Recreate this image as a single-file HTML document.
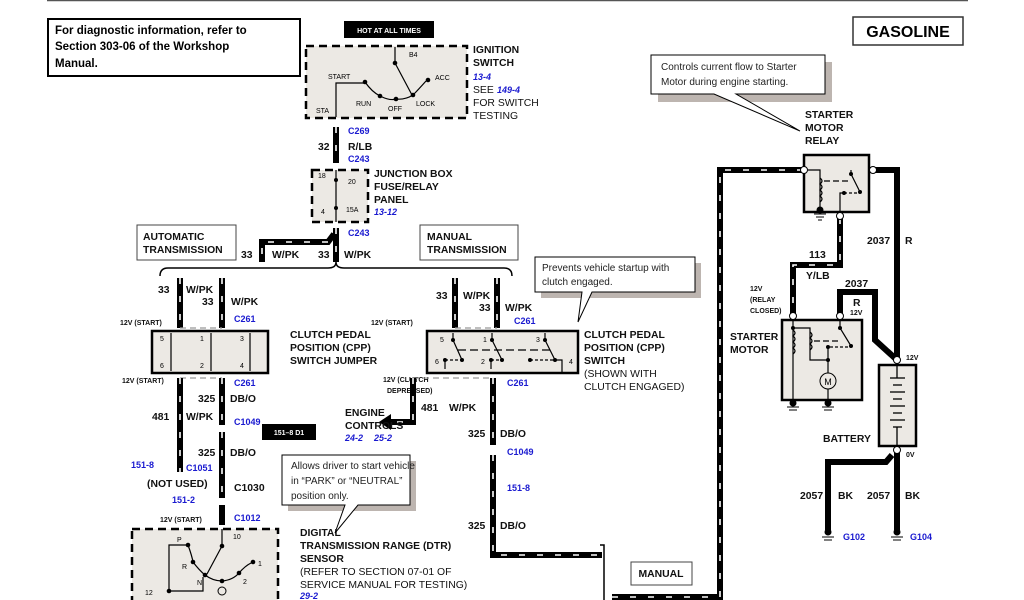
<!DOCTYPE html>
<html><head><meta charset="utf-8"><style>
html,body{margin:0;padding:0;background:#fff;}
svg{display:block;font-family:"Liberation Sans",Arial,sans-serif;}
.b{font-weight:bold;font-size:10.4px;fill:#111;}
.s{font-size:7px;font-weight:bold;fill:#111;}
.n{font-size:10px;fill:#222;}
.bl{font-weight:bold;font-style:italic;font-size:9px;fill:#1a1ad0;}
.c{font-weight:bold;font-size:9px;fill:#1a1ad0;}
.w{fill:none;stroke:#000;stroke-width:6;}
.wd{fill:none;stroke:#fff;stroke-width:1.6;stroke-dasharray:6 12;}
.ws{fill:none;stroke:#000;stroke-width:6;}
.box{fill:#ece9e4;stroke:#000;stroke-width:2.5;}
.dash{fill:#ece9e4;stroke:#000;stroke-width:2.5;stroke-dasharray:8 5;}
.t{fill:none;stroke:#000;stroke-width:1.2;}
</style></head><body>
<svg width="1024" height="600" viewBox="0 0 1024 600">
<line x1="47" y1="0.5" x2="968" y2="0.5" stroke="#555" stroke-width="1.5"/>

<rect x="48" y="19" width="252" height="57" fill="#fff" stroke="#000" stroke-width="2"/>
<text x="55" y="34" style="font-weight:bold;font-size:11.5px">For diagnostic information, refer to</text>
<text x="55" y="50" style="font-weight:bold;font-size:11.5px">Section 303-06 of the Workshop</text>
<text x="55" y="67" style="font-weight:bold;font-size:11.5px">Manual.</text>

<rect x="853" y="17" width="110" height="28" fill="#fff" stroke="#333" stroke-width="1.5"/>
<text x="908" y="37" text-anchor="middle" style="font-weight:bold;font-size:16px">GASOLINE</text>

<rect x="344" y="21" width="90" height="17" fill="#000"/>
<text x="389" y="33" text-anchor="middle" style="font-weight:bold;font-size:7px;fill:#fff">HOT AT ALL TIMES</text>
<rect x="306" y="46" width="161" height="72" class="dash"/>
<g class="t">
<polyline points="395,47 395,63 412,95"/>
<polyline points="336,117 336,83 365,83"/>
<path d="M365,82 Q372,92 380,96 Q390,101 396,99 Q405,100 413,95 Q418,90 426,81"/>
</g>
<g fill="#000"><circle cx="395" cy="63" r="2.3"/><circle cx="365" cy="82" r="2.3"/><circle cx="380" cy="96" r="2.3"/><circle cx="396" cy="99" r="2.3"/><circle cx="413" cy="95" r="2.3"/><circle cx="428" cy="80" r="2.3"/></g>
<g style="font-size:7px"><text x="409" y="57">B4</text><text x="328" y="79">START</text><text x="435" y="80">ACC</text><text x="356" y="106">RUN</text><text x="388" y="111">OFF</text><text x="416" y="106">LOCK</text><text x="316" y="113">STA</text></g>
<g class="b"><text x="473" y="53">IGNITION</text><text x="473" y="66">SWITCH</text><text x="473" y="93" style="font-weight:normal">SEE</text><text x="473" y="106" style="font-weight:normal">FOR SWITCH</text><text x="473" y="119" style="font-weight:normal">TESTING</text></g>
<text x="473" y="80" class="bl">13-4</text><text x="497" y="93" class="bl">149-4</text>

<line x1="336" y1="127" x2="336" y2="163" class="w"/><line x1="336" y1="127" x2="336" y2="163" class="wd"/>
<text x="348" y="134" class="c">C269</text><text x="318" y="150" class="b">32</text><text x="348" y="150" class="b">R/LB</text><text x="348" y="162" class="c">C243</text>

<rect x="312" y="170" width="56" height="52" class="dash"/>
<line x1="336" y1="170" x2="336" y2="222" class="t"/>
<circle cx="336" cy="180" r="2" /><circle cx="336" cy="208" r="2"/>
<g style="font-size:7px"><text x="318" y="178">18</text><text x="348" y="184">20</text><text x="321" y="214">4</text><text x="346" y="212">15A</text></g>
<g class="b"><text x="374" y="177">JUNCTION BOX</text><text x="374" y="190">FUSE/RELAY</text><text x="374" y="203">PANEL</text></g>
<text x="374" y="215" class="bl">13-12</text>

<polyline points="336,228 336,262" class="w"/><polyline points="336,228 336,262" class="wd"/>
<polyline points="334,234 328,242 262,242 262,262" class="w"/><polyline points="328,242 262,242 262,262" class="wd"/>
<text x="348" y="236" class="c">C243</text>
<g class="b"><text x="241" y="258">33</text><text x="272" y="258">W/PK</text><text x="318" y="258">33</text><text x="344" y="258">W/PK</text></g>
<rect x="137" y="225" width="99" height="35" fill="#fff" stroke="#444" stroke-width="1"/>
<text x="143" y="240" class="b">AUTOMATIC</text><text x="143" y="253" class="b">TRANSMISSION</text>
<rect x="420" y="225" width="98" height="35" fill="#fff" stroke="#444" stroke-width="1"/>
<text x="427" y="240" class="b">MANUAL</text><text x="427" y="253" class="b">TRANSMISSION</text>
<path d="M160,276 Q160,268 168,268 L328,268 Q336,268 336,262 Q336,268 344,268 L504,268 Q512,268 512,276" fill="none" stroke="#000" stroke-width="1.5"/>

<line x1="180" y1="278" x2="180" y2="328" class="w"/><line x1="180" y1="278" x2="180" y2="328" class="wd"/>
<line x1="222" y1="278" x2="222" y2="328" class="w"/><line x1="222" y1="278" x2="222" y2="328" class="wd"/>
<line x1="180" y1="328" x2="222" y2="328" stroke="#999" stroke-width="1.2" stroke-dasharray="6 4"/>
<g class="b"><text x="158" y="293">33</text><text x="186" y="293">W/PK</text><text x="202" y="305">33</text><text x="231" y="305">W/PK</text></g>
<text x="120" y="325" class="s">12V (START)</text><text x="234" y="322" class="c">C261</text>
<rect x="152" y="331" width="116" height="42" class="box"/>
<g class="t"><line x1="171" y1="333" x2="171" y2="371"/><line x1="211" y1="333" x2="211" y2="371"/><line x1="250" y1="333" x2="250" y2="371"/></g>
<g style="font-size:7px"><text x="160" y="341">5</text><text x="200" y="341">1</text><text x="240" y="341">3</text><text x="160" y="368">6</text><text x="200" y="368">2</text><text x="240" y="368">4</text></g>
<g class="b"><text x="290" y="338">CLUTCH PEDAL</text><text x="290" y="351">POSITION (CPP)</text><text x="290" y="364">SWITCH JUMPER</text></g>
<text x="122" y="383" class="s">12V (START)</text><text x="234" y="386" class="c">C261</text>
<line x1="180" y1="378" x2="222" y2="378" stroke="#999" stroke-width="1.2" stroke-dasharray="6 4"/>
<line x1="180" y1="378" x2="180" y2="472" class="w"/><line x1="180" y1="378" x2="180" y2="472" class="wd"/>
<line x1="222" y1="378" x2="222" y2="425" class="w"/><line x1="222" y1="378" x2="222" y2="425" class="wd"/>
<line x1="222" y1="432" x2="222" y2="498" class="w"/><line x1="222" y1="432" x2="222" y2="498" class="wd"/>
<line x1="222" y1="505" x2="222" y2="525" class="w"/>
<g class="b"><text x="198" y="402">325</text><text x="230" y="402">DB/O</text><text x="152" y="420">481</text><text x="186" y="420">W/PK</text><text x="198" y="456">325</text><text x="230" y="456">DB/O</text><text x="147" y="487">(NOT USED)</text><text x="234" y="491">C1030</text></g>
<text x="234" y="425" class="c">C1049</text>
<rect x="262" y="424" width="54" height="16" fill="#000"/><text x="289" y="435" text-anchor="middle" style="font-weight:bold;font-size:7px;fill:#fff">151–8 D1</text>
<text x="131" y="468" class="c">151-8</text><text x="186" y="471" class="c">C1051</text><text x="172" y="503" class="c">151-2</text>
<text x="160" y="522" class="s">12V (START)</text><text x="234" y="521" class="c">C1012</text>

<rect x="132" y="529" width="146" height="80" class="dash"/>
<g class="t"><polyline points="222,529 222,546 207,574"/><polyline points="188,545 169,545 169,591 203,591 203,577"/>
<path d="M188,545 Q192,556 193,562 Q199,570 205,575 Q213,581 222,581 Q233,580 239,573 Q245,566 251,563"/></g>
<g fill="#000"><circle cx="222" cy="546" r="2.3"/><circle cx="188" cy="545" r="2.3"/><circle cx="193" cy="562" r="2.3"/><circle cx="205" cy="575" r="2.3"/><circle cx="222" cy="581" r="2.3"/><circle cx="239" cy="573" r="2.3"/><circle cx="253" cy="562" r="2.3"/><circle cx="169" cy="591" r="2.3"/></g>
<circle cx="222" cy="591" r="4" fill="none" stroke="#000"/>
<g style="font-size:7px"><text x="233" y="539">10</text><text x="177" y="542">P</text><text x="182" y="569">R</text><text x="197" y="585">N</text><text x="243" y="584">2</text><text x="258" y="566">1</text><text x="145" y="595">12</text></g>
<g class="b"><text x="300" y="536">DIGITAL</text><text x="300" y="549">TRANSMISSION RANGE (DTR)</text><text x="300" y="562">SENSOR</text><text x="300" y="575" style="font-weight:normal">(REFER TO SECTION 07-01 OF</text><text x="300" y="588" style="font-weight:normal">SERVICE MANUAL FOR TESTING)</text></g>
<text x="300" y="599" class="bl">29-2</text>

<rect x="288" y="461" width="128" height="50" fill="#bdb5b0"/>
<polygon points="282,455 410,455 410,505 358,505 335,533 345,505 282,505" fill="#fff" stroke="#000" stroke-width="1"/>
<text x="291" y="469" class="n">Allows driver to start vehicle</text><text x="291" y="484" class="n">in “PARK” or “NEUTRAL”</text><text x="291" y="499" class="n">position only.</text>

<line x1="455" y1="278" x2="455" y2="328" class="w"/><line x1="455" y1="278" x2="455" y2="328" class="wd"/>
<line x1="497" y1="278" x2="497" y2="328" class="w"/><line x1="497" y1="278" x2="497" y2="328" class="wd"/>
<line x1="455" y1="328" x2="497" y2="328" stroke="#999" stroke-width="1.2" stroke-dasharray="6 4"/>
<g class="b"><text x="436" y="299">33</text><text x="463" y="299">W/PK</text><text x="479" y="311">33</text><text x="505" y="311">W/PK</text></g>
<text x="371" y="325" class="s">12V (START)</text><text x="514" y="324" class="c">C261</text>
<rect x="427" y="331" width="151" height="42" class="box"/>
<g class="t"><polyline points="453,333 453,340 462,360"/><polyline points="445,369 445,360"/>
<polyline points="492,333 492,340 502,360"/><polyline points="491,369 491,360"/>
<polyline points="545,333 545,340 555,360 562,360 562,373"/>
<line x1="458" y1="350" x2="552" y2="350" stroke-dasharray="8 4"/><line x1="445" y1="360" x2="462" y2="360" stroke-dasharray="3 2"/><line x1="491" y1="360" x2="502" y2="360" stroke-dasharray="3 2"/><line x1="530" y1="360" x2="555" y2="360" stroke-dasharray="3 2"/></g>
<g fill="#000"><circle cx="453" cy="340" r="2"/><circle cx="492" cy="340" r="2"/><circle cx="545" cy="340" r="2"/><circle cx="462" cy="360" r="2"/><circle cx="445" cy="360" r="2"/><circle cx="502" cy="360" r="2"/><circle cx="491" cy="360" r="2"/><circle cx="530" cy="360" r="2"/><circle cx="555" cy="360" r="2"/></g>
<g style="font-size:7px"><text x="440" y="342">5</text><text x="483" y="342">1</text><text x="536" y="342">3</text><text x="435" y="364">6</text><text x="481" y="364">2</text><text x="569" y="364">4</text></g>
<g class="b"><text x="584" y="338">CLUTCH PEDAL</text><text x="584" y="351">POSITION (CPP)</text><text x="584" y="364">SWITCH</text><text x="584" y="377" style="font-weight:normal">(SHOWN WITH</text><text x="584" y="390" style="font-weight:normal">CLUTCH ENGAGED)</text></g>
<text x="383" y="382" class="s">12V (CLUTCH</text><text x="387" y="393" class="s">DEPRESSED)</text><text x="507" y="386" class="c">C261</text>
<line x1="413" y1="378" x2="493" y2="378" stroke="#999" stroke-width="1.2" stroke-dasharray="6 4"/>
<polyline points="413,378 413,422 390,422" class="w"/><polyline points="413,378 413,422 395,422" class="wd"/>
<polygon points="379,422 391,414 391,430" fill="#000"/>
<g class="b"><text x="345" y="416">ENGINE</text><text x="345" y="429">CONTROLS</text><text x="421" y="411">481</text><text x="449" y="411">W/PK</text><text x="468" y="437">325</text><text x="500" y="437">DB/O</text><text x="468" y="529">325</text><text x="500" y="529">DB/O</text></g>
<text x="345" y="441" class="bl">24-2</text><text x="374" y="441" class="bl">25-2</text>
<line x1="493" y1="378" x2="493" y2="445" class="w"/><line x1="493" y1="378" x2="493" y2="445" class="wd"/>
<polyline points="493,455 493,555 602,555" class="w"/><polyline points="493,455 493,555 602,555" class="wd"/>
<text x="507" y="455" class="c">C1049</text><text x="507" y="491" class="c">151-8</text>
<polyline points="600,545 604,545 604,600" fill="none" stroke="#000" stroke-width="1.5"/>
<rect x="631" y="562" width="61" height="23" fill="#fff" stroke="#444" stroke-width="1"/>
<text x="661" y="577" text-anchor="middle" class="b">MANUAL</text>
<polyline points="612,597 720,597 720,170 804,170" class="w"/><polyline points="612,597 720,597 720,170 804,170" class="wd"/>

<rect x="541" y="263" width="160" height="35" fill="#bdb5b0"/>
<polygon points="535,257 695,257 695,292 592,292 578,322 582,292 535,292" fill="#fff" stroke="#000" stroke-width="1"/>
<text x="542" y="271" class="n">Prevents vehicle startup with</text><text x="542" y="285" class="n">clutch engaged.</text>
<rect x="658" y="62" width="174" height="40" fill="#bdb5b0"/>
<polygon points="651,55 825,55 825,94 736,94 800,131 714,94 651,94" fill="#fff" stroke="#000" stroke-width="1"/>
<text x="661" y="70" class="n">Controls current flow to Starter</text><text x="661" y="85" class="n">Motor during engine starting.</text>

<g class="b"><text x="805" y="118">STARTER</text><text x="805" y="131">MOTOR</text><text x="805" y="144">RELAY</text></g>
<rect x="804" y="155" width="65" height="57" class="box"/>
<polyline points="869,170 897,170 897,358" class="ws"/>
<g class="t"><polyline points="808,170 820,170 820,210"/><path d="M820,178 q4,3 0,6 q4,3 0,6 q4,3 0,6 q4,3 0,6"/><line x1="824" y1="181" x2="850" y2="181" stroke-dasharray="6 3"/><polyline points="851,170 851,174 860,192"/><polyline points="840,213 840,193 844,193"/><line x1="844" y1="193" x2="860" y2="193" stroke-dasharray="3 2"/></g>
<g fill="#000"><circle cx="851" cy="174" r="2"/><circle cx="844" cy="193" r="2"/><circle cx="860" cy="192" r="2"/><circle cx="820" cy="210" r="3.5"/></g>
<circle cx="804" cy="170" r="3.5" fill="#fff" stroke="#000"/><circle cx="873" cy="170" r="3.5" fill="#fff" stroke="#000"/>
<g stroke="#000"><line x1="814" y1="214" x2="826" y2="214"/><line x1="816" y1="217" x2="824" y2="217"/><line x1="818" y1="220" x2="822" y2="220"/></g>
<polyline points="840,218 840,265 793,265 793,316" class="w"/><polyline points="840,218 840,265 793,265 793,316" class="wd"/>
<circle cx="840" cy="216" r="3.5" fill="#fff" stroke="#000"/>
<g class="b"><text x="867" y="244">2037</text><text x="905" y="244">R</text><text x="809" y="258">113</text><text x="806" y="279">Y/LB</text><text x="845" y="287">2037</text><text x="853" y="306">R</text></g>
<text x="850" y="315" class="s">12V</text>
<text x="750" y="291" class="s">12V</text><text x="750" y="302" class="s">(RELAY</text><text x="750" y="313" class="s">CLOSED)</text>
<polyline points="840,316 840,292 875,292 875,340 897,360" class="ws"/>

<g class="b"><text x="730" y="340">STARTER</text><text x="730" y="353">MOTOR</text></g>
<rect x="782" y="320" width="80" height="80" class="box"/>
<g class="t"><polyline points="793,320 793,400"/><path d="M793,330 q4,3 0,6 q4,3 0,6 q4,3 0,6 q4,3 0,6"/><polyline points="793,328 810,328 810,360 828,360"/><path d="M810,332 q4,3 0,6 q4,3 0,6 q4,3 0,6"/><line x1="814" y1="341" x2="840" y2="341" stroke-dasharray="6 3"/><polyline points="840,320 840,328 851,346"/><polyline points="828,348 828,400"/><line x1="830" y1="347" x2="851" y2="347" stroke-dasharray="3 2"/></g>
<circle cx="828" cy="381" r="8" fill="#ece9e4" stroke="#000"/><text x="828" y="385" text-anchor="middle" style="font-size:9px">M</text>
<g fill="#000"><circle cx="793" cy="328" r="2"/><circle cx="840" cy="328" r="2"/><circle cx="851" cy="346" r="2"/><circle cx="828" cy="347" r="2"/><circle cx="828" cy="360" r="2"/><circle cx="793" cy="403" r="3.5"/><circle cx="828" cy="403" r="3.5"/></g>
<circle cx="793" cy="316" r="3.5" fill="#fff" stroke="#000"/><circle cx="840" cy="316" r="3.5" fill="#fff" stroke="#000"/>
<g stroke="#000"><line x1="787" y1="407" x2="799" y2="407"/><line x1="789" y1="410" x2="797" y2="410"/><line x1="822" y1="407" x2="834" y2="407"/><line x1="824" y1="410" x2="832" y2="410"/></g>

<rect x="879" y="365" width="37" height="81" class="box"/>
<g stroke="#000" stroke-width="1.3"><line x1="890" y1="378" x2="905" y2="378"/><line x1="893" y1="385" x2="902" y2="385"/><line x1="890" y1="392" x2="905" y2="392"/><line x1="893" y1="399" x2="902" y2="399"/><line x1="890" y1="406" x2="905" y2="406"/><line x1="893" y1="413" x2="902" y2="413"/><line x1="890" y1="420" x2="905" y2="420"/><line x1="893" y1="427" x2="902" y2="427"/><line x1="897" y1="365" x2="897" y2="378"/><line x1="897" y1="427" x2="897" y2="446"/></g>
<circle cx="897" cy="360" r="3.5" fill="#fff" stroke="#000"/>
<text x="906" y="360" class="s">12V</text><text x="906" y="457" class="s">0V</text>
<text x="823" y="442" class="b">BATTERY</text>
<polyline points="897,452 897,530" class="ws"/><polyline points="892,455 886,462 828,462 828,530" class="ws"/>
<circle cx="897" cy="450" r="3.5" fill="#fff" stroke="#000"/>
<g class="b"><text x="800" y="499">2057</text><text x="838" y="499">BK</text><text x="867" y="499">2057</text><text x="905" y="499">BK</text></g>
<g fill="#000"><circle cx="828" cy="532" r="3.5"/><circle cx="897" cy="532" r="3.5"/></g>
<g stroke="#000"><line x1="822" y1="537" x2="834" y2="537"/><line x1="824" y1="540" x2="832" y2="540"/><line x1="891" y1="537" x2="903" y2="537"/><line x1="893" y1="540" x2="901" y2="540"/></g>
<text x="843" y="540" class="c">G102</text><text x="910" y="540" class="c">G104</text>
</svg>
</body></html>
